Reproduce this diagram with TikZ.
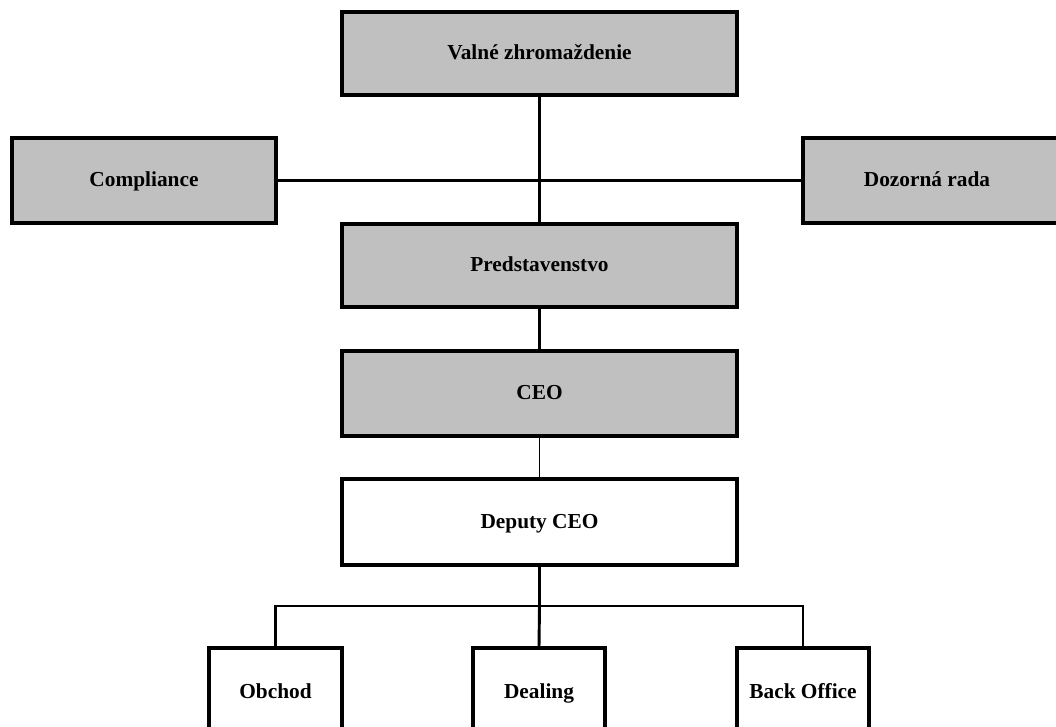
\documentclass[tikz,border=0pt]{standalone}
\usepackage{fontspec}
\setmainfont{Liberation Serif}
\usepackage{tikz}

\definecolor{boxgray}{RGB}{192,192,192}
\tikzset{
  orgtext/.style={font=\fontsize{16}{18}\selectfont\bfseries, text height=2.3ex, text depth=.3ex},
  org/.style={draw, line width=2.3pt, inner sep=0pt, orgtext},
  orggray/.style={org, fill=boxgray},
  link/.style={line width=2.2pt},
}

\begin{document}
\begin{tikzpicture}
[x=0.75pt, y=-0.75pt]
\clip (0,0) rectangle (1056,727);
\fill[white] (0,0) rectangle (1056,727);

\node[orggray, minimum width=395*0.75pt, minimum height=83*0.75pt] (valne) at (539.5,53.5) {Valné zhromaždenie};
\node[orggray, minimum width=264*0.75pt, minimum height=85*0.75pt] (compl) at (144,180.5) {Compliance};
\node[orggray, minimum width=264*0.75pt, minimum height=85*0.75pt] (dozor) at (935,180.5) {};
\node[orgtext, inner sep=0pt] (dozortext) at (927,180.5) {Dozorná rada};
\node[orggray, minimum width=395*0.75pt, minimum height=83*0.75pt] (pred) at (539.5,265.5) {Predstavenstvo};
\node[orggray, minimum width=395*0.75pt, minimum height=85*0.75pt] (ceo) at (539.5,393.5) {CEO};
\node[org, minimum width=395*0.75pt, minimum height=86*0.75pt] (dep) at (539.5,522) {Deputy CEO};

\node[org, minimum width=133*0.75pt, minimum height=88*0.75pt] (obchod) at (275.5,692) {Obchod};
\node[org, minimum width=132*0.75pt, minimum height=88*0.75pt] (deal) at (539,692) {Dealing};
\node[org, minimum width=132*0.75pt, minimum height=88*0.75pt] (back) at (803,692) {Back Office};

\coordinate (bus) at (539.5,606);

\foreach \from/\to in {valne.south/pred.north,compl.east/dozor.west,pred.south/ceo.north,dep.south/bus,bus/deal.north}
\draw[link] (\from) -- (\to);
\draw[line width=1.3pt] (ceo.south) -- (dep.north);
\draw[link] (obchod.north) |- (bus) -| (back.north);
\end{tikzpicture}
\end{document}
